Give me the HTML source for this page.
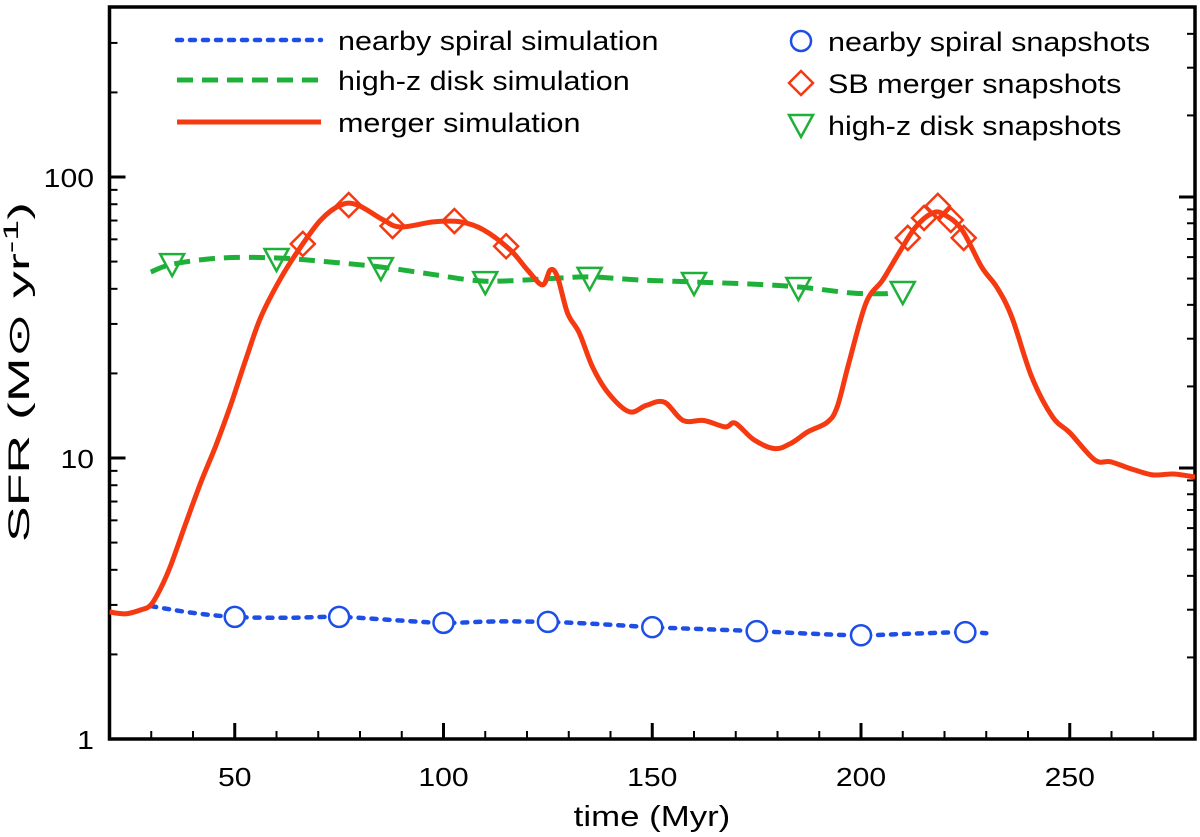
<!DOCTYPE html>
<html><head><meta charset="utf-8"><style>
html,body{margin:0;padding:0;background:#fff;}
svg{display:block;font-family:"Liberation Sans",Arial,sans-serif;}
</style></head><body>
<svg id="chart" width="1200" height="837" viewBox="0 0 1200 837" xmlns="http://www.w3.org/2000/svg">
<g id="axes"></g>
<g id="series"></g>
<g id="legend"></g>
</svg>
<script>
// ---- data ----
const xTicks = [50, 100, 150, 200, 250];
const yTicks = [1, 10, 100];
const yTickLabels = ["1", "10", "100"];
const spiralLineT = [30,40,50,62,75,88,100,112,125,138,150,162,175,188,200,212,225,230];
const spiralLineV = [2.97,2.81,2.72,2.70,2.72,2.65,2.59,2.62,2.61,2.56,2.50,2.46,2.42,2.37,2.34,2.37,2.40,2.38];
const spiralSnapT = [50,75,100,125,150,175,200,225];
const spiralSnapV = [2.72,2.72,2.59,2.61,2.50,2.42,2.34,2.40];
const diskLineT = [29.9,35.2,46.7,60.3,73,85.2,97,106.5,113.7,128,135.2,147,160.3,173.4,185.2,197.4,204.6,207];
const diskLineV = [45.9,49.0,51.5,51.5,49.8,47.8,45.1,43.0,42.6,43.7,44.1,43.0,42.3,41.6,40.6,38.7,38.4,38.6];
const diskSnapT = [35,60,85,110,135,160,185,210];
const diskSnapV = [49.4,51.5,47.8,42.6,44.1,42.3,40.6,39.3];
const mergerT = [20,23.9,27.5,29.9,32.3,34.7,38.3,41.9,45.5,49.0,52.6,56.2,61.0,65.8,70.6,75.4,79.4,85.6,89.7,97.6,104.1,109.6,116.0,120.1,123.7,125.6,127.3,129.7,132.5,135.7,139.5,144.5,148.6,152.9,157.4,162.4,167.5,169.9,174.4,179.4,183.3,187.3,191.9,194.3,197.1,201.2,205.2,209.1,213.1,217.2,220.1,224.2,228.9,232.5,236.1,240.9,245.9,250.0,256.0,259.8,264.8,269.9,274.9,280];
const mergerV = [2.83,2.79,2.88,3.0,3.45,4.16,5.87,8.2,11.1,15.4,22.3,31.6,43.6,56.4,70.3,79.5,79.5,70.3,66.4,69.2,69.2,64.8,55.0,46.7,41.3,46.7,44.1,32.8,27.9,21.1,17.0,14.6,15.4,15.8,13.6,13.6,12.9,13.3,11.6,10.8,11.3,12.4,13.4,15.2,21.8,35.6,43.0,53.7,66.4,74.5,73.3,64.8,47.8,40.6,31.8,19.4,14.0,12.3,9.84,9.69,9.14,8.71,8.77,8.56];
const mergerSnapT = [66.3,77.3,87.8,102.6,115,211.2,215.1,218.4,221.5,224.6];
const mergerSnapV = [57.8,79.5,66.9,69.7,56.7,60.7,71.5,78.9,70.3,60.7];

// ---- scales ----
const L=109.5, R=1195, T=7, B=739;
const xMin=20, xMax=280;
function X(t){return L+(t-xMin)/(xMax-xMin)*(R-L);}
function Y(v){return B-Math.log10(v)*281;}
const NS="http://www.w3.org/2000/svg";
function mk(tag, attrs, parent){const e=document.createElementNS(NS,tag);for(const k in attrs)e.setAttribute(k,attrs[k]);parent.appendChild(e);return e;}
function stretch(el,f){const w=el.getComputedTextLength();el.setAttribute('textLength',(w*f).toFixed(1));el.setAttribute('lengthAdjust','spacingAndGlyphs');}
const axes=document.getElementById('axes'), series=document.getElementById('series'), legend=document.getElementById('legend');
const BLUE="#1d4fe6", GREEN="#1fb03a", RED="#f53a12";
const SF=1.16;

// frame
let frame=mk('rect',{x:L,y:T,width:R-L,height:B-T,fill:'none',stroke:'#000','stroke-width':3.5},axes);



// x ticks
for(let t=30;t<=270;t+=10){
  const major = xTicks.indexOf(t)>=0;
  const tk=mk('line',{x1:X(t),x2:X(t),y1:B,y2:B-(major?16:8),stroke:'#000','stroke-width':major?3:2},axes);
  
  
}
xTicks.forEach(t=>{
  const lb=mk('text',{x:X(t),y:786,'text-anchor':'middle','font-size':26},axes);
  lb.textContent=String(t);
  
  
  stretch(lb,SF);
});
// y ticks left
for(let d=0;d<3;d++){
  for(let k=1;k<=9;k++){
    const v=k*Math.pow(10,d); const y=Y(v);
    if(y<T+2)continue;
    const tk=mk('line',{x1:L,x2:L+(k===1?16:8),y1:y,y2:y,stroke:'#000','stroke-width':k===1?3:2},axes);
    
    
  }
}
yTicks.forEach((v,i)=>{
  const lb=mk('text',{x:94,y:Y(v)+10,'text-anchor':'end','font-size':26},axes);
  lb.textContent=yTickLabels[i];
  
  
  stretch(lb,SF);
});
// right axis ticks (offset scale)
for(let d=-1;d<=1;d++){
  for(let k=1;k<=9;k++){
    const y=468-(d+Math.log10(k))*271;
    if(y<T+2||y>B-2)continue;
    const tk=mk('line',{x1:R,x2:R-(k===1?16:8),y1:y,y2:y,stroke:'#000','stroke-width':k===1?3:2},axes);
    
    
  }
}
// axis titles
let xt=mk('text',{x:652,y:826,'text-anchor':'middle','font-size':29},axes);
xt.textContent='time (Myr)';


stretch(xt,1.2);
let yt=mk('text',{x:0,y:0,'text-anchor':'middle','font-size':30,transform:'translate(29,372) rotate(-90)',textLength:340,lengthAdjust:'spacingAndGlyphs'},axes);
yt.innerHTML='SFR (M\u2299 yr<tspan font-size="21" dy="-11">-1</tspan><tspan dy="11">)</tspan>';



// clip
const defs=mk('defs',{},series);
const cp=mk('clipPath',{id:'clip'},defs);
mk('rect',{x:L,y:T,width:R-L,height:B-T},cp);

function smooth(ts,vs){
  const p=ts.map((t,i)=>[X(t),Y(vs[i])]);
  let d='M'+p[0][0].toFixed(1)+' '+p[0][1].toFixed(1);
  for(let i=0;i<p.length-1;i++){
    const p0=p[Math.max(0,i-1)],p1=p[i],p2=p[i+1],p3=p[Math.min(p.length-1,i+2)];
    const c1=[p1[0]+(p2[0]-p0[0])/6,p1[1]+(p2[1]-p0[1])/6];
    const c2=[p2[0]-(p3[0]-p1[0])/6,p2[1]-(p3[1]-p1[1])/6];
    d+=' C'+c1[0].toFixed(1)+' '+c1[1].toFixed(1)+' '+c2[0].toFixed(1)+' '+c2[1].toFixed(1)+' '+p2[0].toFixed(1)+' '+p2[1].toFixed(1);
  }
  return d;
}
let g=mk('g',{'clip-path':'url(#clip)'},series);
let l1=mk('path',{d:smooth(spiralLineT,spiralLineV),fill:'none',stroke:BLUE,'stroke-width':4.5,'stroke-dasharray':'5 8','stroke-linecap':'round'},g);


let l2=mk('path',{d:smooth(diskLineT,diskLineV),fill:'none',stroke:GREEN,'stroke-width':5,'stroke-dasharray':'16 9'},g);


let l3=mk('path',{d:smooth(mergerT,mergerV),fill:'none',stroke:RED,'stroke-width':5,'stroke-linejoin':'round'},g);



function circle(cx,cy,par){return mk('circle',{cx:cx,cy:cy,r:10,fill:'#fff',stroke:BLUE,'stroke-width':2.5},par);}
function diamond(cx,cy,par){return mk('path',{d:`M${cx} ${cy-12}L${cx+12} ${cy}L${cx} ${cy+12}L${cx-12} ${cy}Z`,fill:'none',stroke:RED,'stroke-width':2.5},par);}
function tri(cx,cy,par){return mk('path',{d:`M${cx-12} ${cy-9}L${cx+12} ${cy-9}L${cx} ${cy+13}Z`,fill:'none',stroke:GREEN,'stroke-width':2.5},par);}
spiralSnapT.forEach((t,i)=>{const m=circle(X(t),Y(spiralSnapV[i]),series);
  
  });
diskSnapT.forEach((t,i)=>{const m=tri(X(t),Y(diskSnapV[i]),series);
  
  });
mergerSnapT.forEach((t,i)=>{const m=diamond(X(t),Y(mergerSnapV[i]),series);
  
  });

// legend
const leftItems=[['nearby spiral simulation',BLUE,'5 8',4.5,40],['high-z disk simulation',GREEN,'16 9',5,80],['merger simulation',RED,'',5,122]];
leftItems.forEach(it=>{
  const ln=mk('line',{x1:177,x2:321,y1:it[4],y2:it[4],stroke:it[1],'stroke-width':it[3],'stroke-dasharray':it[2],'stroke-linecap':it[2]==='5 8'?'round':'butt'},legend);
  
  
  const tx=mk('text',{x:338,y:it[4]+10,'font-size':27},legend);
  tx.textContent=it[0];
  
  
  stretch(tx,1.13);
});
let m1=circle(801,41,legend);


let m2=diamond(801,83,legend);


let m3=tri(801,124,legend);


[['nearby spiral snapshots',41],['SB merger snapshots',83],['high-z disk snapshots',125]].forEach(it=>{
  const tx=mk('text',{x:828,y:it[1]+10,'font-size':27},legend);
  tx.textContent=it[0];
  
  
  stretch(tx,1.13);
});
</script>
</body></html>
